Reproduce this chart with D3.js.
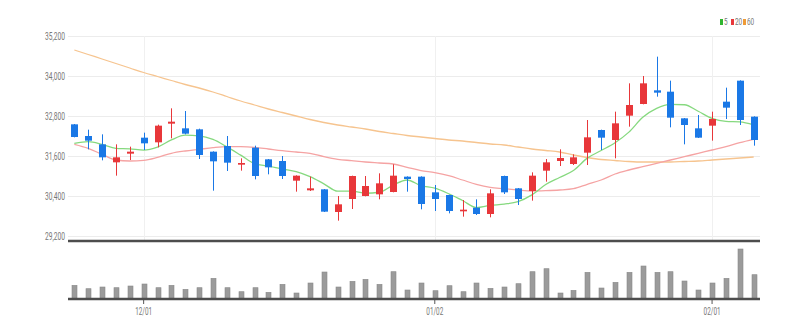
<!DOCTYPE html>
<html><head><meta charset="utf-8">
<script src="https://cdn.jsdelivr.net/npm/d3@7"></script>
<style>
html,body{margin:0;padding:0;background:#fff;}
svg{display:block;font-family:Roboto,"Noto Sans",sans-serif;}
</style></head>
<body><svg id="c" width="806" height="336"></svg>
<script>
// ---- data ----
const dates = ["11/24","11/25","11/28","11/29","11/30","12/01","12/02","12/05","12/06","12/07",
"12/08","12/09","12/12","12/13","12/14","12/15","12/16","12/19","12/20","12/21",
"12/22","12/23","12/26","12/27","12/28","12/29","01/02","01/03","01/04","01/05",
"01/06","01/09","01/10","01/11","01/12","01/13","01/16","01/17","01/18","01/19",
"01/20","01/25","01/26","01/27","01/30","01/31","02/01","02/02","02/03","02/06"];
const open  = [32550,32200,31950,31410,31670,32150,32010,32570,32430,32400,
31730,31900,31340,31850,31500,31450,30860,30570,30600,29920,
30310,30400,30450,30520,30980,30980,30510,30430,29940,30050,
29860,31000,30630,30550,31160,31450,31360,31700,32380,32080,
32810,33160,33570,33530,32730,32430,32510,33230,33860,32780];
const high  = [32560,32390,32250,31950,31880,32300,32540,33030,32950,32420,
31740,32200,31530,31910,31510,31600,31020,30980,30610,30400,
31010,31000,31080,31350,30990,30990,30730,30440,30280,30300,
30600,31010,30640,31110,31510,31800,31650,32680,32390,32930,
33780,34000,34580,33860,32740,32830,32930,33650,33870,32790];
const low   = [32160,31800,31470,31010,31480,31780,31860,32130,32250,31510,
30560,31150,31160,30900,31050,30910,30530,30550,29920,29660,
30010,30390,30300,30510,30530,30000,29950,29880,29780,29830,
29760,30460,30130,30260,30830,31300,31330,31330,31780,31530,
32480,33150,33380,32460,31950,32140,32060,32710,32530,31910];
const close = [32170,32060,31560,31560,31730,31980,32510,32630,32270,31630,
31440,31400,31390,31000,31260,31000,31010,30630,29930,30150,
31000,30700,30780,31010,30910,30160,30310,29950,29990,29860,
30480,30510,30310,31010,31410,31540,31560,32160,32150,32580,
33130,33780,33500,32750,32530,32150,32710,33050,32680,32080];
const volume = [137000,103000,120000,113000,130000,150000,113000,137000,97000,113000,
207000,113000,73000,113000,67000,147000,60000,160000,270000,120000,
177000,197000,147000,273000,90000,160000,83000,133000,73000,160000,
107000,120000,153000,273000,303000,60000,87000,267000,110000,167000,
267000,330000,267000,273000,180000,90000,160000,207000,500000,243000];
const ma5 = [31980,32030,31950,31830,31816,31778,31868,32082,32224,32204,
32096,31874,31626,31372,31298,31210,31132,30980,30766,30544,
30544,30482,30512,30728,30880,30712,30634,30468,30264,30054,
30118,30158,30230,30434,30744,30956,31166,31536,31764,31998,
32316,32760,33028,33148,33138,32942,32728,32638,32624,32534];
const ma20 = [31950,31830,31650,31480,31450,31470,31560,31680,31750,31800,
31850,31880,31880,31860,31810,31760,31720,31680,31580,31500,
31460,31420,31390,31360,31260,31160,31100,31010,30880,30750,
30660,30620,30580,30550,30560,30580,30620,30750,30880,31060,
31180,31280,31380,31480,31580,31680,31780,31880,32000,32100];
const ma60 = [34780,34645,34510,34375,34240,34105,33985,33865,33745,33640,
33520,33385,33250,33130,33010,32905,32800,32695,32605,32530,
32470,32410,32335,32275,32215,32170,32125,32080,32050,32005,
31960,31930,31870,31810,31765,31720,31630,31555,31495,31465,
31435,31420,31420,31420,31435,31450,31480,31510,31540,31570];
const priceTicks = [29200,30400,31600,32800,34000,35200];
const dateTicks = ["12/01","01/02","02/01"];
const legendLabels = ["5","20","60"];

// ---- styles ----
const UP="#e8373a", DOWN="#1a78e6";
const maColors = ["#86d97f","#f5a3a3","#f6c48f"];
const legendColors = ["#2fb52f","#e8373a","#ef9a36"];

const svg = d3.select("#c");
const idx = d3.range(close.length);
const x = d3.scaleBand().domain(idx).range([67.4, 760.6]).padding(0);
const cx = i => x(i) + x.bandwidth()/2;
const y = d3.scaleLinear().domain([29200, 35200]).range([236, 36]);
const yv = d3.scaleLinear().domain([0, d3.max(volume)]).range([299, 249]);
const L = 68, R = 760;

// gridlines
svg.append("g").selectAll("line").data(priceTicks).join("line")
  .attr("x1", L).attr("x2", R)
  .attr("y1", d => Math.round(y(d))+0.5).attr("y2", d => Math.round(y(d))+0.5)
  .attr("stroke", "#ececec").attr("stroke-width", 1);
const tickIdx = dateTicks.map(t => dates.indexOf(t));
svg.append("g").selectAll("line").data(tickIdx).join("line")
  .attr("x1", d => Math.round(cx(d))+0.5).attr("x2", d => Math.round(cx(d))+0.5)
  .attr("y1", 36).attr("y2", 240)
  .attr("stroke", "#f0f0f0").attr("stroke-width", 1);

// y axis labels
const ya = svg.append("g").attr("transform", `translate(${L},0)`)
  .call(d3.axisLeft(y).tickValues(priceTicks).tickFormat(d3.format(",")).tickSize(0).tickPadding(3));
ya.select(".domain").remove();
ya.selectAll("text").attr("fill", "#777").attr("font-size", 10.5)
  .attr("font-family", "Roboto, sans-serif")
  .attr("textLength", 20).attr("lengthAdjust", "spacingAndGlyphs");

// MA lines
const line = d3.line().x((d,i) => cx(i)).y(d => y(d)).curve(d3.curveMonotoneX);
[ma60, ma20, ma5].forEach((s, k) => {
  svg.append("path").datum(s).attr("d", line).attr("fill", "none")
    .attr("stroke", maColors[2-k]).attr("stroke-width", 1.3);
});

// candles
const cg = svg.append("g").selectAll("g").data(idx).join("g");
cg.append("line")
  .attr("x1", i => Math.round(cx(i))+0.5).attr("x2", i => Math.round(cx(i))+0.5)
  .attr("y1", i => y(high[i])).attr("y2", i => y(low[i]))
  .attr("stroke", i => close[i] >= open[i] ? UP : DOWN).attr("stroke-width", 1);
cg.append("rect")
  .attr("x", i => Math.round(cx(i)) - 3)
  .attr("width", 7)
  .attr("y", i => y(Math.max(open[i], close[i])))
  .attr("height", i => Math.max(1.5, Math.abs(y(open[i]) - y(close[i]))))
  .attr("fill", i => close[i] >= open[i] ? UP : DOWN);

// separator
svg.append("line").attr("x1", L).attr("x2", R).attr("y1", 241).attr("y2", 241)
  .attr("stroke", "#4d4d4d").attr("stroke-width", 2.5);

// volume bars
svg.append("g").selectAll("rect").data(idx).join("rect")
  .attr("x", i => Math.round(cx(i)) - 2)
  .attr("width", 5)
  .attr("y", i => yv(volume[i]))
  .attr("height", i => yv(0) - yv(volume[i]))
  .attr("fill", "#9b9b9b").attr("stroke", "#8a8a8a").attr("stroke-width", 0.6);

// x axis
const xa = svg.append("g").attr("transform", "translate(0,299)")
  .call(d3.axisBottom(x).tickValues(tickIdx).tickFormat(i => dates[i]).tickSize(5).tickPadding(4));
xa.select(".domain").remove();
xa.selectAll(".tick line").attr("stroke", "#555");
xa.selectAll("text").attr("fill", "#777").attr("font-size", 10.5)
  .attr("font-family", "Roboto, sans-serif")
  .attr("textLength", 17).attr("lengthAdjust", "spacingAndGlyphs");
svg.append("line").attr("x1", L).attr("x2", R).attr("y1", 299).attr("y2", 299)
  .attr("stroke", "#4d4d4d").attr("stroke-width", 2.5);

// legend
const lg = svg.append("g");
const lx = [720, 731, 743];
legendLabels.forEach((t, k) => {
  lg.append("rect").attr("x", lx[k]).attr("y", 19).attr("width", 3).attr("height", 6)
    .attr("fill", legendColors[k]);
  lg.append("text").attr("x", lx[k] + 4).attr("y", 25).text(t)
    .attr("fill", "#777").attr("font-size", 9)
    .attr("textLength", t.length * 3.6).attr("lengthAdjust", "spacingAndGlyphs");
});
</script></body></html>
